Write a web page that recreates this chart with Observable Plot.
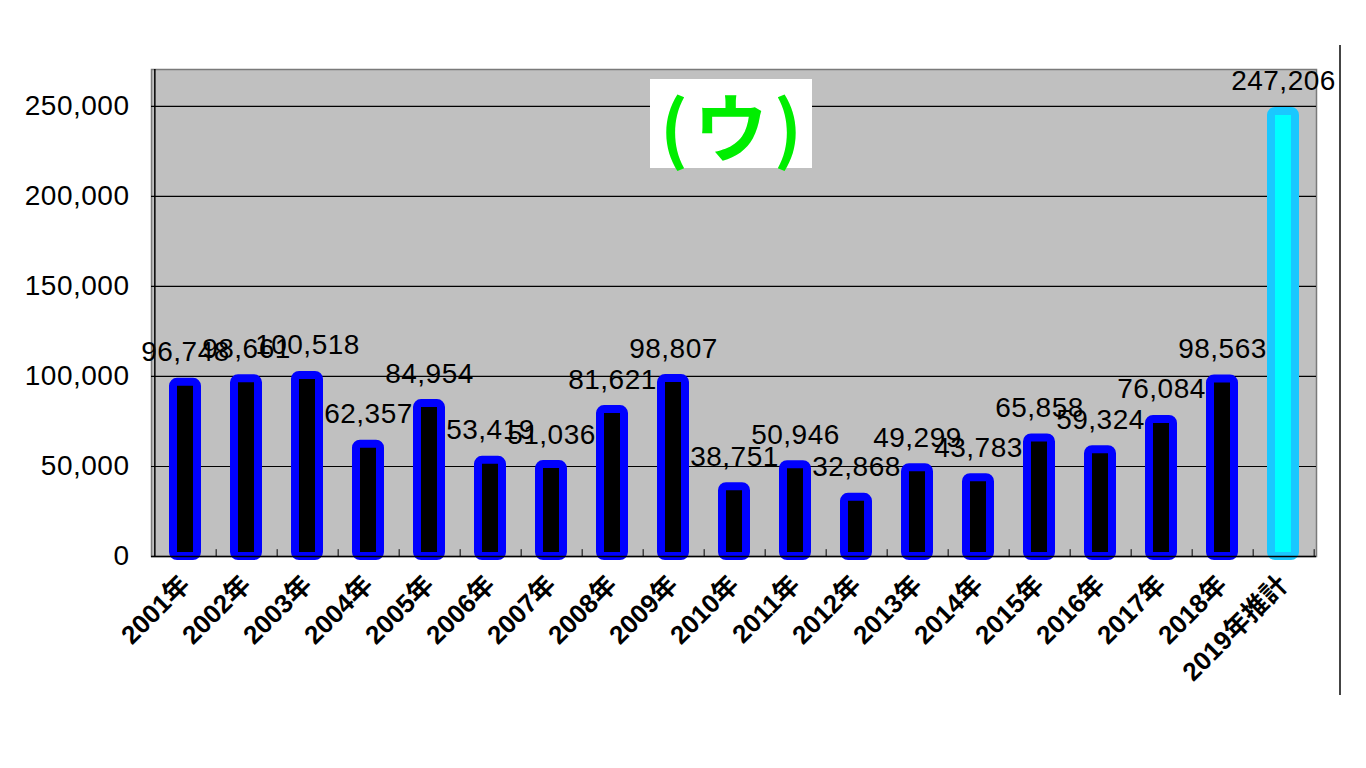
<!DOCTYPE html>
<html>
<head>
<meta charset="utf-8">
<script src="https://cdn.jsdelivr.net/npm/d3@7"></script>
<script src="https://cdn.jsdelivr.net/npm/@observablehq/plot@0.6"></script>
<style>
  html, body { margin: 0; padding: 0; background: #fff; width: 1366px; height: 768px; overflow: hidden; }
  #wrap { position: relative; width: 1366px; height: 768px; }
  #chart { position: absolute; left: 0; top: 0; }
  #title {
    position: absolute; left: 650px; top: 79px; width: 162px; height: 89px;
    background: #fff; color: #00ee00; font-family: "Noto Sans CJK JP", sans-serif;
    font-weight: bold; font-size: 74px; line-height: 89px; text-align: center; letter-spacing: 6px; text-indent: 6px;
  }
  #vline { position: absolute; left: 1339px; top: 45px; width: 2px; height: 650px; background: #444; }
  g[aria-label="y-axis tick label"] text, g[aria-label="text"] text { letter-spacing: 0.5px; }
</style>
</head>
<body>
<div id="wrap">
  <div id="chart"></div>
  <div id="title">(ウ)</div>
  <div id="vline"></div>
</div>
<script>
const categories = ["2001年","2002年","2003年","2004年","2005年","2006年","2007年","2008年","2009年","2010年","2011年","2012年","2013年","2014年","2015年","2016年","2017年","2018年","2019年推計"];
const values = [96748, 98661, 100518, 62357, 84954, 53419, 51036, 81621, 98807, 38751, 50946, 32868, 49299, 43783, 65858, 59324, 76084, 98563, 247206];
const yTicks = [0, 50000, 100000, 150000, 200000, 250000];

const data = categories.map((c, i) => ({category: c, value: values[i], estimate: c.includes("推計")}));

const W = 1366, H = 720, mL = 151, mR = 50, mT = 69, mB = 164;
const step = (W - mL - mR) / categories.length;
const fmt = d3.format(",");

const chart = Plot.plot({
  width: W, height: H,
  marginLeft: mL, marginRight: mR, marginTop: mT, marginBottom: mB,
  style: {background: "transparent", fontFamily: "'Liberation Sans', 'Noto Sans CJK JP', sans-serif", color: "#000"},
  x: {domain: categories, paddingInner: 0.61, paddingOuter: 0.305, label: null, axis: null},
  y: {domain: [0, 270500], label: null, axis: null},
  marks: [
    Plot.frame({fill: "#c0c0c0", stroke: "#7a7a7a", strokeWidth: 1.5}),
    Plot.gridY(yTicks, {stroke: "#000", strokeOpacity: 1, strokeWidth: 1.2}),
    Plot.ruleX(categories, {x: d => d, y1: 0, y2: 3800, dx: step / 2, stroke: "#000"}),
    Plot.barY(data, {
      x: "category", y: "value",
      fill: d => d.estimate ? "#00ffff" : "#000000",
      stroke: d => d.estimate ? "#1ac8ff" : "#0000ff",
      strokeWidth: 8, rx: 4
    }),
    Plot.ruleY([0], {stroke: "#000", strokeWidth: 1.5}),
    Plot.ruleX([categories[0]], {x: d => d, dx: -step / 2, stroke: "#000", strokeWidth: 1.5}),
    Plot.text(data, {x: "category", y: "value", text: d => fmt(d.value), dy: -30, fontSize: 28, fill: "#000"}),
    Plot.axisY(yTicks, {tickFormat: fmt, tickSize: 0, tickPadding: 22, fontSize: 28, label: null}),
    Plot.axisX(categories, {tickRotate: -45, tickSize: 0, tickPadding: 24, fontSize: 26, fontWeight: "bold", label: null})
  ]
});
document.getElementById("chart").appendChild(chart);
</script>
</body>
</html>
